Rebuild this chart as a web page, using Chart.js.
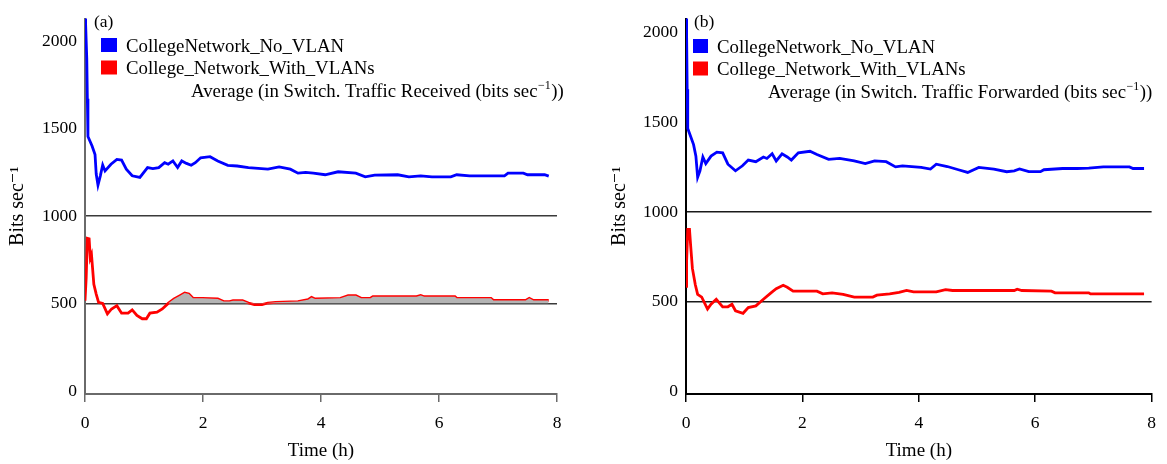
<!DOCTYPE html>
<html><head><meta charset="utf-8">
<script src="https://cdn.jsdelivr.net/npm/chart.js@4.4.1/dist/chart.umd.min.js"></script>
<style>
html,body{margin:0;padding:0;background:#fff;width:1167px;height:464px;overflow:hidden}
.panel{position:absolute;top:0;height:464px}
</style></head><body>
<div class="panel" style="left:0;width:583px"><canvas id="c1" width="583" height="464"></canvas></div>
<div class="panel" style="left:583px;width:584px"><canvas id="c2" width="584" height="464"></canvas></div>
<script>
// ---- data ----
const timeTicks = [0, 2, 4, 6, 8];
const valueTicks = [0, 500, 1000, 1500, 2000];
const referenceLines = [500, 1000];
const seriesLabels = ['CollegeNetwork_No_VLAN', 'College_Network_With_VLANs'];
const panelTags = ['(a)', '(b)'];
const panelMetrics = ['Traffic Received', 'Traffic Forwarded'];
const shadeFromTime = 1.4;   // (a): grey shading above 500 starts here

// (a) Traffic received
const recvNoVlanTime = [0,0.01,0.03,0.04,0.05,0.12,0.17,0.19,0.22,0.26,0.30,0.34,0.44,0.54,0.62,0.70,0.80,0.93,1.06,1.15,1.25,1.35,1.41,1.49,1.57,1.64,1.72,1.80,1.87,1.96,2.12,2.25,2.42,2.58,2.77,3.10,3.29,3.48,3.61,3.74,3.87,4.07,4.29,4.59,4.75,4.91,5.30,5.49,5.69,5.88,6.20,6.30,6.52,7.11,7.17,7.43,7.50,7.79,7.86];
const recvNoVlan = [2400,2100,1900,1670,1455,1400,1352,1240,1177,1230,1292,1258,1296,1324,1320,1268,1230,1221,1277,1271,1277,1305,1296,1315,1277,1315,1301,1290,1305,1333,1339,1315,1290,1286,1277,1268,1281,1268,1245,1249,1245,1236,1253,1245,1224,1234,1236,1224,1230,1224,1224,1236,1230,1230,1245,1245,1236,1236,1228];
const recvVlanTime = [0,0.02,0.04,0.07,0.09,0.11,0.15,0.19,0.23,0.30,0.38,0.45,0.54,0.62,0.73,0.80,0.88,0.97,1.04,1.10,1.22,1.31,1.41,1.51,1.61,1.69,1.76,1.83,1.99,2.25,2.35,2.45,2.51,2.67,2.77,2.87,3.00,3.10,3.23,3.61,3.78,3.84,3.90,4.33,4.46,4.59,4.68,4.84,4.88,5.62,5.69,5.75,6.27,6.30,6.88,6.92,7.47,7.53,7.60,7.86];
const recvVlan = [516,648,873,870,760,779,610,554,507,501,441,469,488,445,445,464,432,413,413,445,451,469,501,526,545,560,554,530,530,526,511,511,516,516,503,494,494,503,507,511,522,535,526,530,545,545,530,530,539,539,546,539,539,530,530,518,518,530,518,518];

// (b) Traffic forwarded
const fwdNoVlanTime = [0,0.01,0.02,0.03,0.08,0.13,0.17,0.20,0.24,0.29,0.34,0.43,0.53,0.63,0.72,0.85,0.97,1.07,1.20,1.33,1.39,1.48,1.55,1.65,1.74,1.81,1.93,2.13,2.25,2.45,2.64,2.89,3.08,3.24,3.44,3.60,3.72,4.04,4.20,4.30,4.49,4.68,4.84,5.03,5.29,5.51,5.64,5.73,5.89,6.09,6.15,6.47,6.72,6.92,7.17,7.62,7.68,7.87];
const fwdNoVlan = [2300,2000,1684,1466,1421,1376,1312,1194,1230,1307,1270,1312,1334,1330,1267,1230,1258,1290,1281,1307,1299,1325,1285,1325,1307,1290,1330,1339,1321,1294,1299,1285,1270,1285,1281,1252,1258,1249,1240,1267,1254,1236,1221,1249,1240,1225,1230,1240,1225,1225,1236,1243,1243,1245,1252,1252,1243,1243];
const fwdVlanTime = [0,0.01,0.03,0.06,0.08,0.11,0.16,0.20,0.27,0.37,0.43,0.52,0.63,0.72,0.79,0.85,0.98,1.07,1.20,1.33,1.46,1.55,1.67,1.74,1.84,2.25,2.35,2.51,2.70,2.89,3.21,3.28,3.50,3.66,3.79,3.91,4.30,4.46,4.58,5.64,5.69,5.77,6.28,6.34,6.92,6.95,7.87];
const fwdVlan = [586,722,904,904,813,686,595,541,526,459,486,514,472,472,486,450,436,468,477,514,550,573,592,581,559,559,544,550,541,526,526,537,544,553,563,555,555,568,563,563,570,563,559,550,550,544,544];

// ---- drawing ----
const FONT = "'Liberation Serif','DejaVu Serif','Times New Roman',serif";
const BLUE = '#0000ff', RED = '#ff0000';

function toPoints(ts, vs) { return ts.map((t, i) => ({x: t, y: vs[i]})); }

function legendPlugin(cfg) {
  return {
    id: 'panelLegend',
    afterDraw(chart) {
      const ctx = chart.ctx;
      ctx.save();
      ctx.textBaseline = 'alphabetic';
      ctx.textAlign = 'left';
      ctx.fillStyle = '#000';
      ctx.font = `17.5px ${FONT}`;
      ctx.fillText(cfg.tag, cfg.tagX, 27);
      chart.data.datasets.filter(ds => ds.label).forEach((ds, i) => {
        ctx.fillStyle = ds.borderColor;
        ctx.fillRect(cfg.boxX, cfg.boxY + i * 22.5, cfg.boxW, 14);
        ctx.fillStyle = '#000';
        ctx.font = `18.8px ${FONT}`;
        ctx.fillText(ds.label, cfg.textX, cfg.boxY + 13.5 + i * 22.5);
      });
      const base = cfg.boxY + 58.5;
      let x = cfg.avgX;
      const main = `Average (in Switch. ${cfg.metric} (bits sec`;
      ctx.font = `18.8px ${FONT}`;
      ctx.fillText(main, x, base);
      x += ctx.measureText(main).width;
      ctx.font = `12px ${FONT}`;
      const sup = '\u22121';
      ctx.fillText(sup, x + 0.5, base - 8);
      x += ctx.measureText(sup).width + 1;
      ctx.font = `18.8px ${FONT}`;
      ctx.fillText('))', x, base);
      ctx.restore();
    }
  };
}

function buildChart(id, cfg) {
  const datasets = [];
  if (cfg.shade) {
    const pts = toPoints(cfg.shade.t, cfg.shade.v).filter(p => p.x >= shadeFromTime);
    datasets.push({
      label: '', data: pts, borderWidth: 0, borderColor: 'rgba(0,0,0,0)', pointRadius: 0, tension: 0,
      fill: {target: {value: 500}, above: '#b4b4b4', below: 'rgba(0,0,0,0)'}
    });
  }
  cfg.series.forEach(s => datasets.push({
    label: s.label,
    data: toPoints(s.t, s.v),
    borderColor: s.color,
    backgroundColor: s.color,
    borderWidth: 2.8,
    pointRadius: 0,
    tension: 0,
    fill: false
  }));
  return new Chart(document.getElementById(id), {
    type: 'line',
    data: {datasets},
    plugins: [legendPlugin(cfg)],
    options: {
      responsive: false,
      animation: false,
      devicePixelRatio: 1,
      parsing: false,
      layout: {padding: {left: cfg.padLeft, right: cfg.padRight, top: 12, bottom: 0}},
      plugins: {legend: {display: false}, tooltip: {enabled: false}},
      scales: {
        x: {
          type: 'linear', position: 'bottom', min: 0, max: 8,
          afterBuildTicks: s => { s.ticks = timeTicks.map(v => ({value: v})); },
          afterFit: s => { s.height = 70; },
          border: {display: true, color: cfg.axisColor, width: cfg.axisWidth},
          grid: {drawOnChartArea: false, drawTicks: true, tickLength: 8, color: cfg.axisColor, lineWidth: 1.5},
          ticks: {padding: 11, color: '#000', font: {family: FONT, size: 17.5}, maxRotation: 0, callback: v => String(v)},
          title: {display: true, text: 'Time (h)', color: '#000', font: {family: FONT, size: 19}, padding: {top: 0, bottom: 2}}
        },
        y: {
          type: 'linear', position: 'left', min: cfg.yMin, max: cfg.yMax,
          afterBuildTicks: s => { s.ticks = valueTicks.map(v => ({value: v})); },
          afterFit: s => { s.width = cfg.yWidth; },
          border: {display: true, color: cfg.axisColor, width: cfg.axisWidth},
          grid: {
            drawTicks: false,
            lineWidth: 1.5,
            color: c => (c.tick && referenceLines.includes(c.tick.value)) ? cfg.refColor : 'rgba(0,0,0,0)'
          },
          ticks: {padding: 8, color: '#000', font: {family: FONT, size: 17.5}, callback: v => String(v)},
          title: {display: true, text: 'Bits sec\u207B\u00B9', color: '#000', font: {family: FONT, size: 20}, padding: {top: 4, bottom: 0}}
        }
      }
    }
  });
}

buildChart('c1', {
  tag: panelTags[0], metric: panelMetrics[0],
  tagX: 94, boxX: 101, boxY: 38, boxW: 16, textX: 126, avgX: 191,
  padLeft: 2, padRight: 26, yWidth: 83, yMin: -17, yMax: 2129,
  axisColor: '#6a6a6a', axisWidth: 2, refColor: '#3a3a3a',
  shade: {t: recvVlanTime, v: recvVlan},
  series: [
    {label: seriesLabels[0], t: recvNoVlanTime, v: recvNoVlan, color: BLUE},
    {label: seriesLabels[1], t: recvVlanTime, v: recvVlan, color: RED}
  ]
});

buildChart('c2', {
  tag: panelTags[1], metric: panelMetrics[1],
  tagX: 111, boxX: 110, boxY: 39, boxW: 15, textX: 134, avgX: 185,
  padLeft: 21, padRight: 11, yWidth: 82, yMin: -14, yMax: 2079,
  axisColor: '#000', axisWidth: 2, refColor: '#1a1a1a',
  series: [
    {label: seriesLabels[0], t: fwdNoVlanTime, v: fwdNoVlan, color: BLUE},
    {label: seriesLabels[1], t: fwdVlanTime, v: fwdVlan, color: RED}
  ]
});
</script>
</body></html>
